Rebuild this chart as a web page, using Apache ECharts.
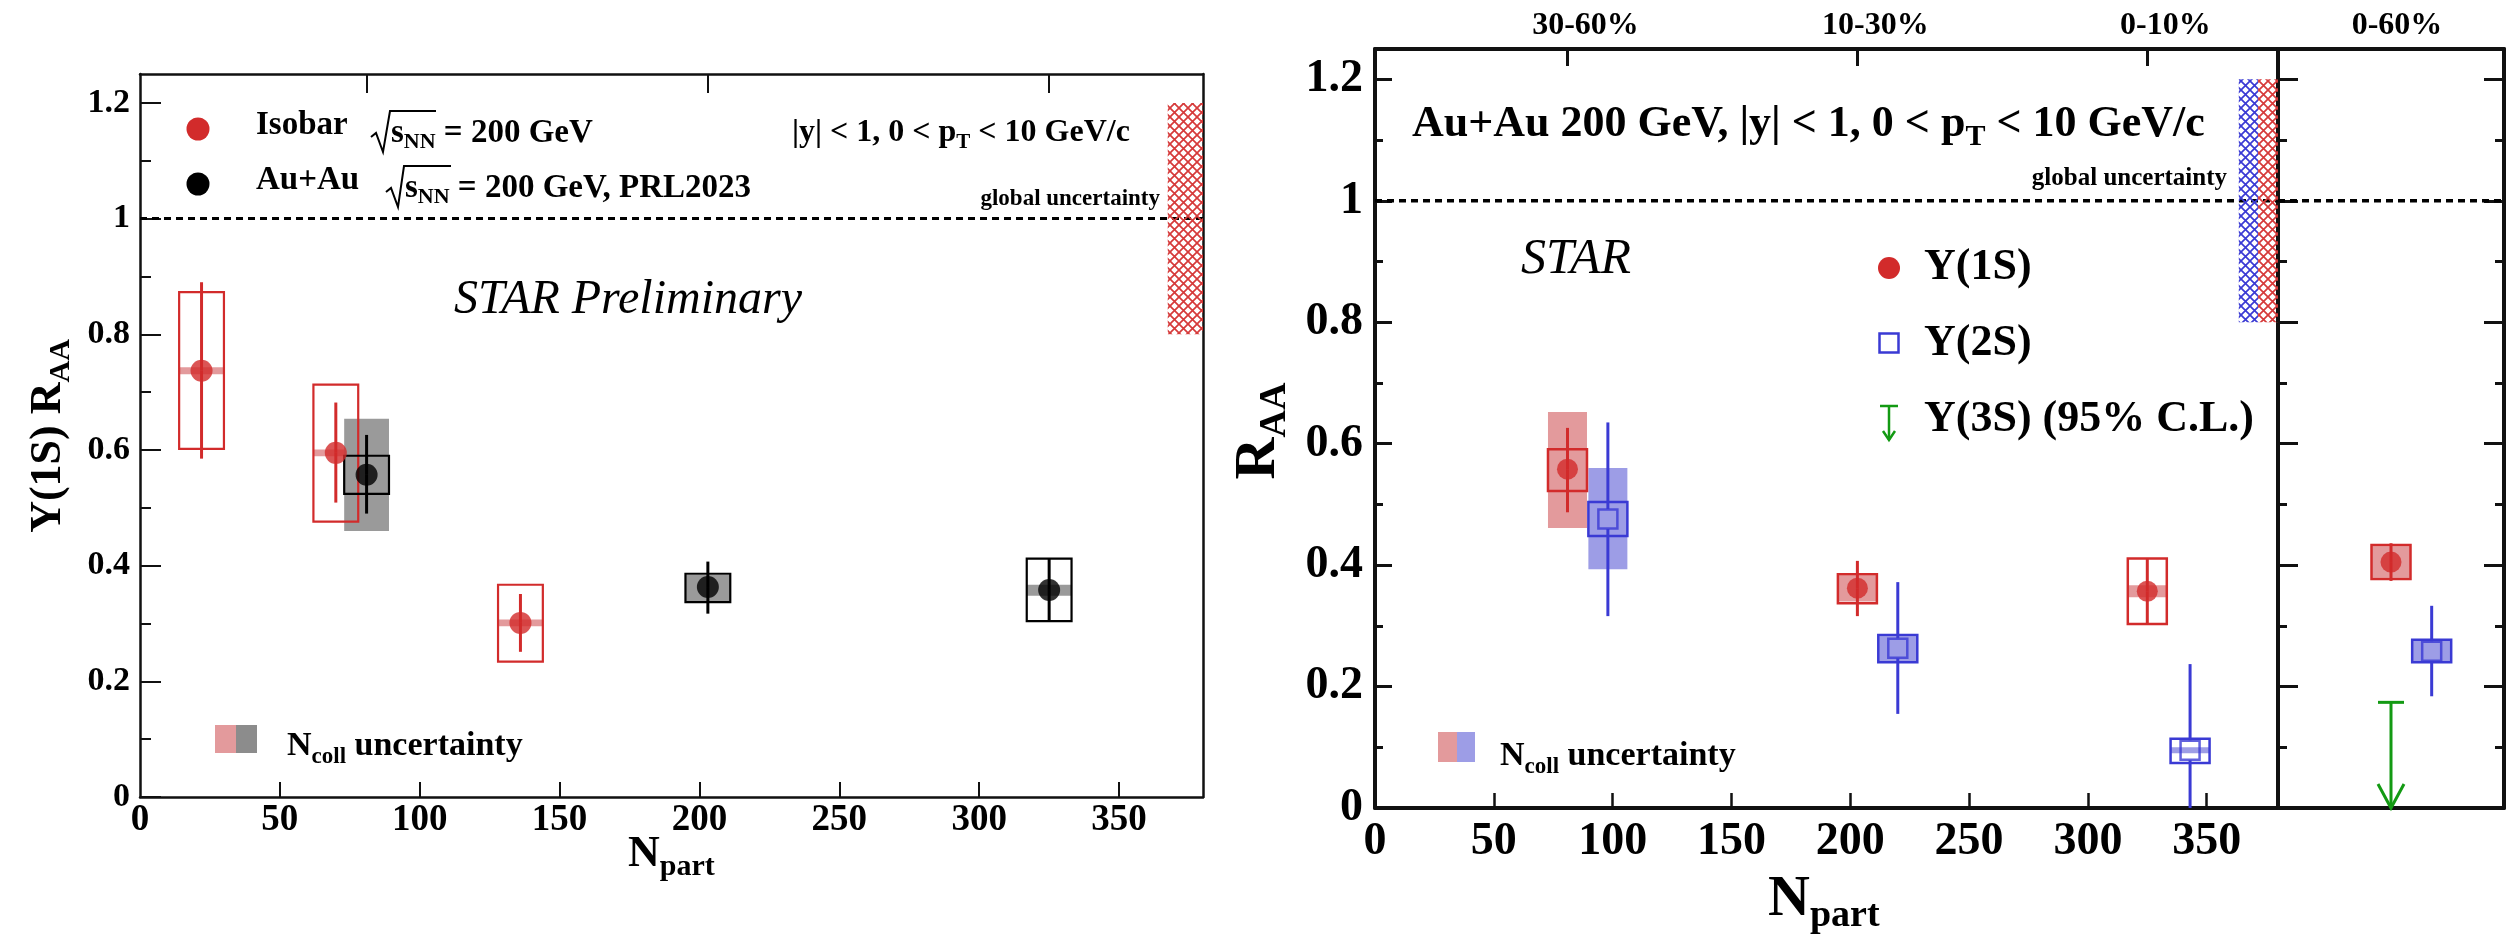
<!DOCTYPE html>
<html><head><meta charset="utf-8">
<script src="https://cdn.jsdelivr.net/npm/echarts@6/dist/echarts.min.js"></script>
<style>html,body{margin:0;padding:0;background:#fff}#c{width:2508px;height:936px}</style>
</head><body><div id="c"></div>
<script>
// ---------------- data ----------------
const npartTicks = [50, 100, 150, 200, 250, 300, 350];
const npartLabels = [0, 50, 100, 150, 200, 250, 300, 350];
const raaTicks = [0, 0.2, 0.4, 0.6, 0.8, 1, 1.2];
const raaMinorTicks = [0.1, 0.3, 0.5, 0.7, 0.9, 1.1];
const centralityTicks = [81, 203, 325];
const centralityNames = ['30-60%', '10-30%', '0-10%'];
const integratedName = '0-60%';

// Left panel: Isobar sqrt(sNN)=200 GeV
const isoNpart = [22, 70, 136];
const isoRaa   = [0.737, 0.595, 0.301];
const isoStat  = [[0.585, 0.890], [0.509, 0.682], [0.251, 0.351]];
const isoSys   = [[0.602, 0.873], [0.476, 0.713], [0.234, 0.367]];
const isoNcoll = [[0.731, 0.743], [0.589, 0.601], [0.295, 0.307]];

// Left panel: Au+Au PRL2023
const auNpart = [81, 203, 325];
const auRaa   = [0.557, 0.363, 0.358];
const auStat  = [[0.490, 0.626], [0.317, 0.407], [0.306, 0.413]];
const auSys   = [[0.524, 0.590], [0.337, 0.386], [0.304, 0.412]];
const auNcoll = [[0.460, 0.654], [0.339, 0.384], [0.348, 0.367]];

// Right panel: Upsilon(1S)
const y1sNpart = [81, 203, 325];
const y1sRaa   = [0.558, 0.362, 0.357];
const y1sStat  = [[0.487, 0.626], [0.316, 0.407], [0.303, 0.410]];
const y1sSys   = [[0.522, 0.591], [0.337, 0.385], [0.303, 0.411]];
const y1sNcoll = [[0.461, 0.652], [0.340, 0.383], [0.347, 0.367]];

// Right panel: Upsilon(2S)
const y2sNpart = [98, 220, 343];
const y2sRaa   = [0.476, 0.263, 0.095];
const y2sStat  = [[0.316, 0.635], [0.155, 0.372], [0.000, 0.237]];
const y2sSys   = [[0.448, 0.504], [0.240, 0.285], [0.074, 0.114]];
const y2sNcoll = [[0.393, 0.560], [0.242, 0.283], [0.090, 0.100]];

// Integrated 0-60% (x = place inside the 0-60% panel)
const intX = { y1s: 0.5, y2s: 0.68, y3s: 0.5 };
const int1S = { raa: 0.405, stat: [0.374, 0.436], sys: [0.377, 0.433], ncoll: [0.379, 0.431] };
const int2S = { raa: 0.258, stat: [0.184, 0.333], sys: [0.240, 0.277], ncoll: [0.242, 0.275] };
const int3SLimit = 0.174;

// Global uncertainty band (R_AA range)
const globalUnc = [0.8, 1.2];

// ---------------- style ----------------
const SERIF = 'Liberation Serif';
const RED = '#d22b2b', LRED = '#e39a9c', BLUE = '#3a3ad4', LBLUE = '#9d9de6', GRAY = '#9a9a9a', GREEN = '#139a13';

function hatch(color) {
  const n = 9;
  const c = document.createElement('canvas');
  c.width = n; c.height = n;
  const g = c.getContext('2d');
  g.strokeStyle = color; g.lineWidth = 1.7;
  g.beginPath();
  g.moveTo(-1, -1); g.lineTo(n + 1, n + 1);
  g.moveTo(n + 1, -1); g.lineTo(-1, n + 1);
  g.stroke();
  return c;
}

function boxSeries(xi, yi, xs, ranges, hw, style, z) {
  return {
    type: 'custom', xAxisIndex: xi, yAxisIndex: yi, z: z, silent: true, clip: false,
    encode: { x: 0, y: [1, 2] },
    data: xs.map((x, i) => [x, ranges[i][0], ranges[i][1]]),
    renderItem: function (p, api) {
      const x = api.value(0), lo = api.value(1), hi = api.value(2);
      const a = api.coord([x, hi]), b = api.coord([x, lo]);
      return { type: 'rect', shape: { x: a[0] - hw, y: a[1], width: 2 * hw, height: Math.max(b[1] - a[1], 1) },
               style: Object.assign({}, style) };
    }
  };
}

function statSeries(xi, yi, xs, ys, ranges, color, w, gap, z) {
  return {
    type: 'custom', xAxisIndex: xi, yAxisIndex: yi, z: z, silent: true, clip: false,
    encode: { x: 0, y: [2, 3] },
    data: xs.map((x, i) => [x, ys[i], ranges[i][0], ranges[i][1]]),
    renderItem: function (p, api) {
      const x = api.value(0), y = api.value(1), lo = api.value(2), hi = api.value(3);
      const c = api.coord([x, y]), pl = api.coord([x, lo]), ph = api.coord([x, hi]);
      const ch = [];
      const st = { stroke: color, lineWidth: w };
      if (ph[1] < c[1] - gap) ch.push({ type: 'line', shape: { x1: c[0], y1: ph[1], x2: c[0], y2: c[1] - gap }, style: st });
      if (pl[1] > c[1] + gap) ch.push({ type: 'line', shape: { x1: c[0], y1: c[1] + gap, x2: c[0], y2: pl[1] }, style: st });
      return { type: 'group', children: ch };
    }
  };
}

function markSeries(xi, yi, xs, ys, symbol, size, itemStyle, z) {
  return { type: 'scatter', xAxisIndex: xi, yAxisIndex: yi, z: z, silent: true,
           symbol: symbol, symbolSize: size, itemStyle: itemStyle,
           data: xs.map((x, i) => [x, ys[i]]) };
}

function hatchSeries(xi, yi, x0, x1, color) {
  const pat = hatch(color);
  return {
    type: 'custom', xAxisIndex: xi, yAxisIndex: yi, z: 2, silent: true, clip: false,
    data: [[x0, x1, globalUnc[0], globalUnc[1]]],
    renderItem: function (p, api) {
      const a = api.coord([api.value(0), api.value(3)]), b = api.coord([api.value(1), api.value(2)]);
      return { type: 'rect', shape: { x: a[0], y: a[1], width: b[0] - a[0], height: b[1] - a[1] },
               style: { fill: { image: pat, repeat: 'repeat' } } };
    }
  };
}

function unityLine(xi, yi, xmax, w) {
  return { type: 'line', xAxisIndex: xi, yAxisIndex: yi, z: 1, silent: true, symbol: 'none',
           data: [[0, 1], [xmax, 1]], lineStyle: { color: '#000', width: w, type: [7, 5] } };
}

// rich text helper: parts = [[text, isSub], ...]
function rtext(x, y, parts, o) {
  const lh = Math.round(o.size * 1.15);
  const m = { fontSize: o.size, fontFamily: SERIF, fontWeight: o.weight || 'bold', fontStyle: o.style || 'normal',
              fill: '#000', lineHeight: lh, verticalAlign: 'top' };
  const s = Object.assign({}, m, { fontSize: o.sub || o.size, padding: [o.drop || 0, 0, 0, 0] });
  const hasSub = parts.some(p => p[1]);
  const text = parts.map(p => '{' + (p[1] ? 's' : 'm') + '|' + p[0] + '}').join('');
  const shift = hasSub ? (o.drop || 0) / 2 : 0;
  let X = x, Y = y;
  if (o.rotation) X = x + shift; else Y = y + shift;
  return { type: 'text', x: X, y: Y, rotation: o.rotation || 0, z: 100, silent: true,
           style: { text: text, rich: { m: m, s: s }, align: o.align || 'left', verticalAlign: 'middle' } };
}
function ptext(x, y, str, size, extra) {
  return rtext(x, y, [[str, 0]], Object.assign({ size: size }, extra || {}));
}

// ---------------- axes ----------------
function xax(grid, pos, max, lineW, tick, label) {
  return {
    type: 'value', gridIndex: grid, position: pos, min: 0, max: max,
    axisLine: { show: true, onZero: false, lineStyle: { color: '#111', width: lineW } },
    axisTick: tick ? Object.assign({ show: true, inside: true, lineStyle: { color: '#111', width: tick.w } }, tick) : { show: false },
    axisLabel: label ? Object.assign({ show: true, fontFamily: SERIF, fontWeight: 'bold', color: '#000' }, label) : { show: false },
    splitLine: { show: false }
  };
}
function yax(grid, pos, lineShow, lineW, tick, label) {
  return {
    type: 'value', gridIndex: grid, position: pos, min: 0, max: 1.25,
    axisLine: { show: lineShow, onZero: false, lineStyle: { color: '#111', width: lineW } },
    axisTick: tick ? Object.assign({ show: true, inside: true, lineStyle: { color: '#111', width: tick.w } }, tick) : { show: false },
    axisLabel: label ? Object.assign({ show: true, fontFamily: SERIF, fontWeight: 'bold', color: '#000' }, label) : { show: false },
    splitLine: { show: false }
  };
}

const xAxis = [
  xax(0, 'bottom', 380, 2.5, { length: 15, w: 2, customValues: npartTicks }, { customValues: npartLabels, fontSize: 37, margin: 5 }),
  xax(0, 'top', 380, 2.5, { length: 19, w: 2, customValues: centralityTicks }, null),
  xax(1, 'bottom', 380, 4, { length: 15, w: 2.5, customValues: npartTicks }, { customValues: npartLabels, fontSize: 46, margin: 11 }),
  xax(1, 'top', 380, 4, { length: 17, w: 3, customValues: centralityTicks },
      { customValues: centralityTicks, fontSize: 32, margin: 7, padding: [0, 0, 0, 36],
        formatter: function (v) { let k = 0; centralityTicks.forEach((t, i) => { if (Math.abs(t - v) < Math.abs(centralityTicks[k] - v)) k = i; }); return centralityNames[k]; } }),
  xax(2, 'bottom', 1, 4, null, null),
  xax(2, 'top', 1, 4, null, { customValues: [intX.y1s], fontSize: 32, margin: 7, padding: [0, 0, 0, 12], formatter: function () { return integratedName; } })
];

const yAxis = [
  yax(0, 'left', true, 2.5, { length: 21, w: 2, customValues: raaTicks }, { customValues: raaTicks, fontSize: 34, margin: 10 }),
  yax(0, 'left', false, 0, { length: 11, w: 2, customValues: raaMinorTicks }, null),
  yax(0, 'right', true, 2.5, null, null),
  yax(1, 'left', true, 4, { length: 17, w: 3, customValues: raaTicks }, { customValues: raaTicks, fontSize: 46, margin: 12 }),
  yax(1, 'left', false, 0, { length: 8, w: 3, customValues: raaMinorTicks }, null),
  yax(2, 'left', true, 4, { length: 20, w: 3, customValues: raaTicks }, null),
  yax(2, 'left', false, 0, { length: 9, w: 3, customValues: raaMinorTicks }, null),
  yax(2, 'right', true, 4, { length: 20, w: 3, customValues: raaTicks }, null),
  yax(2, 'right', false, 0, { length: 9, w: 3, customValues: raaMinorTicks }, null)
];

// ---------------- series ----------------
const HWL = 22.4, HWR = 19.5;
const series = [
  // left panel
  unityLine(0, 0, 380, 3),
  hatchSeries(0, 0, 367.4, 380, '#d63a3a'),
  boxSeries(0, 0, isoNpart, isoNcoll, HWL, { fill: LRED }, 2),
  boxSeries(0, 0, auNpart, auNcoll, HWL, { fill: GRAY }, 2),
  boxSeries(0, 0, isoNpart, isoSys, HWL, { fill: 'none', stroke: RED, lineWidth: 2.2 }, 3),
  boxSeries(0, 0, auNpart, auSys, HWL, { fill: 'none', stroke: '#000', lineWidth: 2.2 }, 3),
  statSeries(0, 0, isoNpart, isoRaa, isoStat, RED, 3, 0, 4),
  statSeries(0, 0, auNpart, auRaa, auStat, '#000', 3, 0, 4),
  markSeries(0, 0, isoNpart, isoRaa, 'circle', 22, { color: RED }, 5),
  markSeries(0, 0, auNpart, auRaa, 'circle', 22, { color: '#000' }, 5),

  // right panel
  unityLine(2, 3, 380, 3.5),
  hatchSeries(2, 3, 363.5, 371.6, '#3a3ad4'),
  hatchSeries(2, 3, 371.6, 380, '#d63a3a'),
  boxSeries(2, 3, y1sNpart, y1sNcoll, HWR, { fill: LRED }, 2),
  boxSeries(2, 3, y2sNpart, y2sNcoll, HWR, { fill: LBLUE }, 2),
  boxSeries(2, 3, y1sNpart, y1sSys, HWR, { fill: 'none', stroke: RED, lineWidth: 2.5 }, 3),
  boxSeries(2, 3, y2sNpart, y2sSys, HWR, { fill: 'none', stroke: BLUE, lineWidth: 2.5 }, 3),
  statSeries(2, 3, y1sNpart, y1sRaa, y1sStat, RED, 3, 0, 4),
  statSeries(2, 3, y2sNpart, y2sRaa, y2sStat, BLUE, 3, 10, 4),
  markSeries(2, 3, y1sNpart, y1sRaa, 'circle', 21, { color: RED }, 5),
  markSeries(2, 3, y2sNpart, y2sRaa, 'rect', 19, { color: 'rgba(0,0,0,0)', borderColor: BLUE, borderWidth: 2.5 }, 5),

  // 0-60% panel
  unityLine(4, 5, 1, 3.5),
  boxSeries(4, 5, [intX.y1s], [int1S.ncoll], HWR, { fill: LRED }, 2),
  boxSeries(4, 5, [intX.y2s], [int2S.ncoll], HWR, { fill: LBLUE }, 2),
  boxSeries(4, 5, [intX.y1s], [int1S.sys], HWR, { fill: 'none', stroke: RED, lineWidth: 2.5 }, 3),
  boxSeries(4, 5, [intX.y2s], [int2S.sys], HWR, { fill: 'none', stroke: BLUE, lineWidth: 2.5 }, 3),
  statSeries(4, 5, [intX.y1s], [int1S.raa], [int1S.stat], RED, 3, 0, 4),
  statSeries(4, 5, [intX.y2s], [int2S.raa], [int2S.stat], BLUE, 3, 10, 4),
  markSeries(4, 5, [intX.y1s], [int1S.raa], 'circle', 21, { color: RED }, 5),
  markSeries(4, 5, [intX.y2s], [int2S.raa], 'rect', 19, { color: 'rgba(0,0,0,0)', borderColor: BLUE, borderWidth: 2.5 }, 5),
  {
    type: 'custom', xAxisIndex: 4, yAxisIndex: 5, z: 4, silent: true, clip: false,
    data: [[intX.y3s, int3SLimit]],
    renderItem: function (p, api) {
      const c = api.coord([api.value(0), api.value(1)]), b = api.coord([api.value(0), 0]);
      const st = { stroke: GREEN, lineWidth: 3, fill: 'none' };
      return { type: 'group', children: [
        { type: 'line', shape: { x1: c[0] - 13, y1: c[1], x2: c[0] + 13, y2: c[1] }, style: st },
        { type: 'line', shape: { x1: c[0], y1: c[1], x2: b[0], y2: b[1] }, style: st },
        { type: 'polyline', shape: { points: [[b[0] - 13, b[1] - 24], [b[0], b[1]], [b[0] + 13, b[1] - 24]] }, style: st }
      ] };
    }
  }
];

// ---------------- texts / legends ----------------
const graphic = [
  // left legend
  { type: 'circle', shape: { cx: 198, cy: 129, r: 11.5 }, style: { fill: RED }, z: 100 },
  { type: 'circle', shape: { cx: 198, cy: 184, r: 11.5 }, style: { fill: '#000' }, z: 100 },
  ptext(256, 128, 'Isobar', 33),
  { type: 'polyline', shape: { points: [[371, 137], [376, 133], [383, 152], [390, 111], [436, 111]] }, style: { stroke: '#000', lineWidth: 2, fill: 'none' }, z: 100 },
  rtext(391, 128, [['s', 0], ['NN', 1], [' = 200 GeV', 0]], { size: 33, sub: 22, drop: 15 }),
  ptext(256, 183, 'Au+Au', 33),
  { type: 'polyline', shape: { points: [[386, 192], [391, 188], [398, 207], [404, 166], [451, 166]] }, style: { stroke: '#000', lineWidth: 2, fill: 'none' }, z: 100 },
  rtext(405, 183, [['s', 0], ['NN', 1], [' = 200 GeV, PRL2023', 0]], { size: 33, sub: 22, drop: 15 }),
  rtext(792, 128, [['|y| < 1, 0 < p', 0], ['T', 1], [' < 10 GeV/c', 0]], { size: 32, sub: 21, drop: 15 }),
  ptext(1160, 201, 'global uncertainty', 23, { align: 'right' }),
  ptext(628, 304, 'STAR Preliminary', 48, { style: 'italic', weight: 'normal', align: 'center' }),
  { type: 'rect', shape: { x: 215, y: 725, width: 21, height: 28 }, style: { fill: LRED }, z: 100 },
  { type: 'rect', shape: { x: 236, y: 725, width: 21, height: 28 }, style: { fill: '#8c8c8c' }, z: 100 },
  rtext(287, 741, [['N', 0], ['coll', 1], [' uncertainty', 0]], { size: 34, sub: 23, drop: 16 }),
  rtext(42, 436, [['\u03A5(1S) R', 0], ['AA', 1]], { size: 44, sub: 30, drop: 20, rotation: Math.PI / 2, align: 'center' }),
  rtext(628, 848, [['N', 0], ['part', 1]], { size: 44, sub: 30, drop: 20 }),

  // right panel
  rtext(1412, 118, [['Au+Au 200 GeV, |y| < 1, 0 < p', 0], ['T', 1], [' < 10 GeV/c', 0]], { size: 44, sub: 30, drop: 20 }),
  ptext(2227, 181, 'global uncertainty', 25, { align: 'right' }),
  ptext(1576, 263, 'STAR', 50, { style: 'italic', weight: 'normal', align: 'center' }),
  { type: 'circle', shape: { cx: 1889, cy: 268, r: 11 }, style: { fill: RED }, z: 100 },
  ptext(1924, 271, '\u03A5(1S)', 44),
  { type: 'rect', shape: { x: 1879.5, y: 333.5, width: 19, height: 19 }, style: { fill: 'none', stroke: BLUE, lineWidth: 2.5 }, z: 100 },
  ptext(1924, 347, '\u03A5(2S)', 44),
  { type: 'line', shape: { x1: 1880, y1: 406, x2: 1898, y2: 406 }, style: { stroke: GREEN, lineWidth: 2.5 }, z: 100 },
  { type: 'line', shape: { x1: 1889, y1: 406, x2: 1889, y2: 440 }, style: { stroke: GREEN, lineWidth: 2.5 }, z: 100 },
  { type: 'polyline', shape: { points: [[1883, 431], [1889, 440], [1895, 431]] }, style: { stroke: GREEN, lineWidth: 2.5, fill: 'none' }, z: 100 },
  ptext(1924, 423, '\u03A5(3S) (95% C.L.)', 44),
  { type: 'rect', shape: { x: 1438, y: 732, width: 19, height: 30 }, style: { fill: LRED }, z: 100 },
  { type: 'rect', shape: { x: 1457, y: 732, width: 18, height: 30 }, style: { fill: LBLUE }, z: 100 },
  rtext(1500, 751, [['N', 0], ['coll', 1], [' uncertainty', 0]], { size: 34, sub: 23, drop: 16 }),
  rtext(1251, 431, [['R', 0], ['AA', 1]], { size: 58, sub: 38, drop: 26, rotation: Math.PI / 2, align: 'center' }),
  rtext(1768, 892, [['N', 0], ['part', 1]], { size: 58, sub: 38, drop: 26 })
];

const chart = echarts.init(document.getElementById('c'), null, { renderer: 'canvas' });
chart.setOption({
  animation: false,
  backgroundColor: '#fff',
  grid: [
    { left: 140, top: 74, width: 1063, height: 723 },
    { left: 1375, top: 49, width: 903, height: 759 },
    { left: 2278, top: 49, width: 226, height: 759 }
  ],
  xAxis: xAxis,
  yAxis: yAxis,
  series: series,
  graphic: graphic
});
</script>
</body></html>
